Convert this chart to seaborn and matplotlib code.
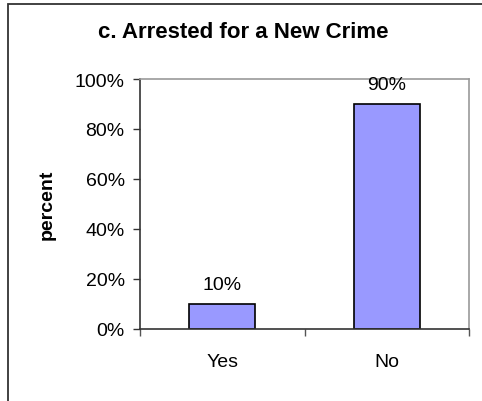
import matplotlib
matplotlib.use("Agg")
import matplotlib.pyplot as plt
from matplotlib.patches import Rectangle
from matplotlib.ticker import FuncFormatter, FixedLocator
import seaborn as sns
import pandas as pd

categories = ["Yes", "No"]
values = [10, 90]
value_labels = ["10%", "90%"]
y_ticks = [0, 20, 40, 60, 80, 100]

sns.set_theme(style="white")
plt.rcParams["font.family"] = ["Liberation Sans", "DejaVu Sans"]
plt.rcParams["text.color"] = "black"
plt.rcParams["xtick.color"] = "black"
plt.rcParams["ytick.color"] = "black"
plt.rcParams["axes.labelcolor"] = "black"

W, H = 482, 402
fig = plt.figure(figsize=(W / 100, H / 100), dpi=100)
ax = fig.add_axes([140 / W, 1 - 330 / H, (469 - 140) / W, (330 - 80) / H])

df = pd.DataFrame({"category": categories, "percent": values})
sns.barplot(data=df, x="category", y="percent", ax=ax, color="#9999FF",
            saturation=1, width=0.4, edgecolor="black", linewidth=1.2)

ax.set_ylim(0, 100)
ax.set_xlim(-0.5, 1.5)
ax.yaxis.set_major_locator(FixedLocator(y_ticks))
ax.yaxis.set_major_formatter(FuncFormatter(lambda v, p: f"{v:.0f}%"))

# category separators as tick marks on the x axis
ax.set_xticks([-0.5, 0.5, 1.5], minor=False)
ax.set_xticklabels([])
ax.set_xticks([0, 1], minor=True)
ax.set_xticklabels(categories, minor=True)
ax.tick_params(axis="x", which="major", direction="out", length=5, width=1,
               color="#555555", bottom=True)
ax.tick_params(axis="x", which="minor", length=0, pad=17, labelsize=14)
ax.tick_params(axis="y", direction="out", length=5, width=1, color="#333333",
               left=True, labelsize=14, pad=6)

for side in ["left", "bottom"]:
    ax.spines[side].set_color("#333333")
    ax.spines[side].set_linewidth(1.2)
for side in ["top", "right"]:
    ax.spines[side].set_color("#999999")
    ax.spines[side].set_linewidth(1.2)

ax.set_xlabel("")
ax.set_ylabel("percent", fontsize=14, fontweight="bold", labelpad=14)

for i, (v, lab) in enumerate(zip(values, value_labels)):
    ax.annotate(lab, xy=(i, v), xytext=(0, 8), textcoords="offset points",
                ha="center", va="bottom", fontsize=14)

fig.text(243 / W, 1 - 33 / H, "c. Arrested for a New Crime", ha="center",
         va="center", fontsize=16, fontweight="bold")

fig.patches.append(Rectangle((8 / W, -0.1), 1.2, 1 - 5 / H + 0.1,
                             transform=fig.transFigure, fill=False,
                             edgecolor="#333333", linewidth=1.3))

fig.savefig("out.png", dpi=100)
